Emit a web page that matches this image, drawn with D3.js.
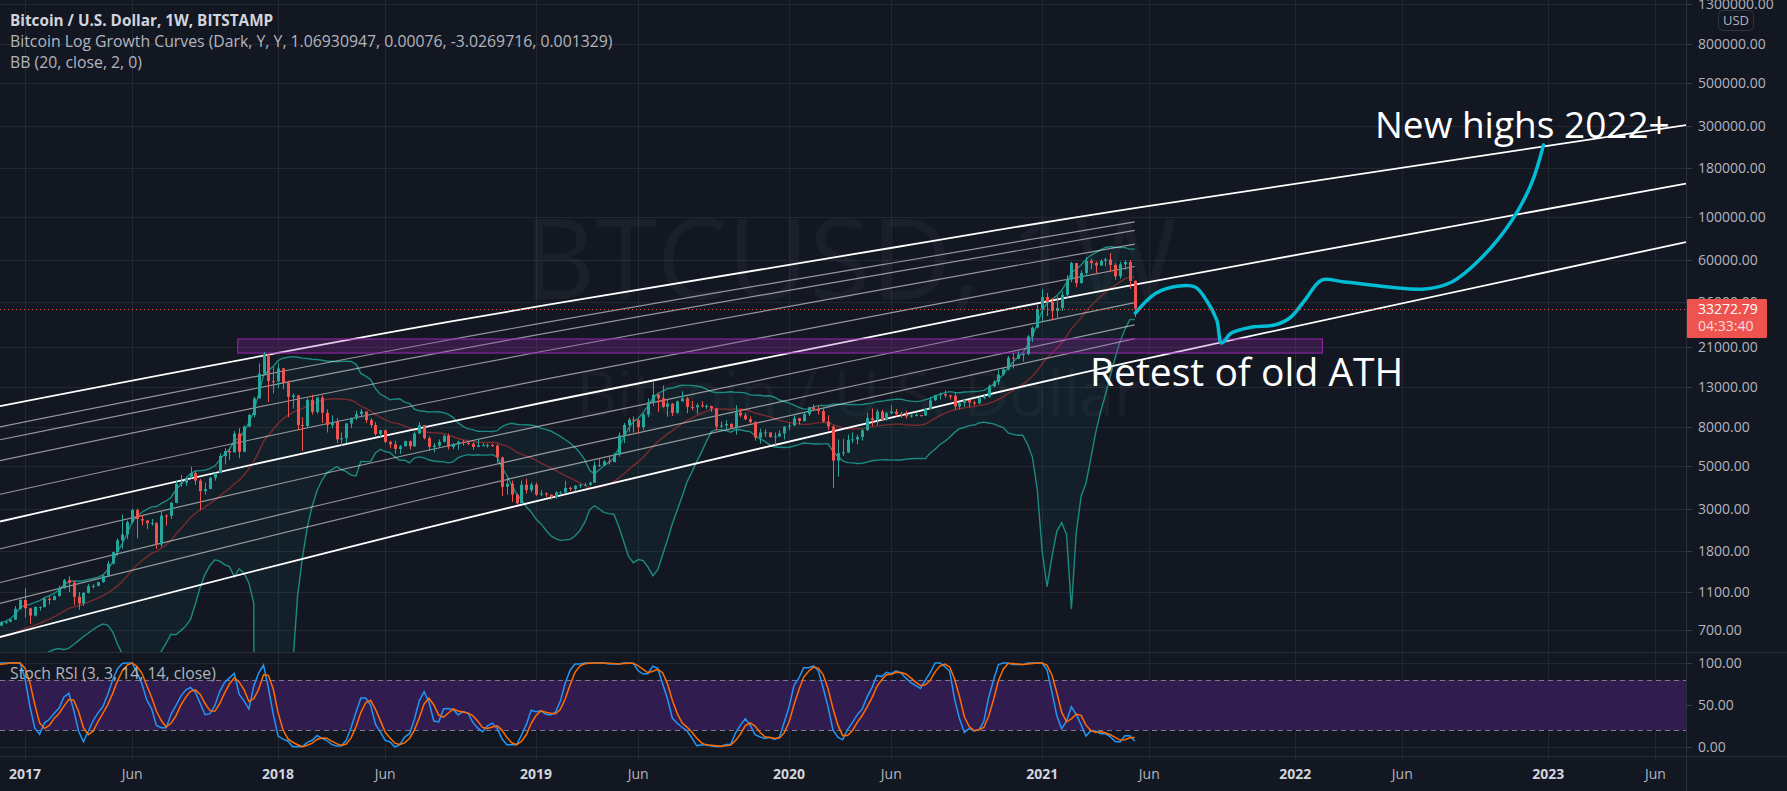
<!DOCTYPE html>
<html><head><meta charset="utf-8">
<script src="https://cdn.jsdelivr.net/npm/d3@7"></script>
<style>body{margin:0;background:#131722;overflow:hidden} svg{display:block}</style>
</head><body><svg id="c" width="1787" height="791"></svg>
<script>
// ---------- DATA ----------
const firstWeek = "2016-01-04";
const firstOpen = 432;
const highs = [460,450,410,420,380,410,445,440,440,420,420,420,425,425,432,455,470,465,465,455,535,590,700,780,770,700,690,680,680,660,625,600,590,585,610,615,612,610,615,620,645,660,720,745,740,755,750,775,780,795,930,1010,
1150,910,925,925,1030,1050,1060,1190,1290,1330,1260,1100,1100,1210,1210,1245,1350,1600,1790,2100,2790,2600,3000,3000,2780,2620,2650,2550,2900,2800,3250,4200,4500,4400,4980,4700,4300,4100,4400,4620,5850,6200,6200,7650,7900,8150,9400,11500,17200,19700,19100,16500,
17200,16300,14000,12000,11800,9000,11300,11800,11500,11700,9900,9200,8900,7500,8400,9000,9750,9950,9650,8900,8500,7750,7750,6800,6800,6450,6800,6800,7600,8500,8200,7150,6600,6900,7300,7400,6600,6800,6850,6700,6650,6950,6600,6550,6550,6500,5600,4400,4200,3600,4200,4300,4100,
4100,3750,3650,3550,3700,3700,4200,3900,3980,4050,4100,4150,5300,5450,5400,5600,5900,7500,8400,8950,9100,8800,9400,11300,13900,12000,13200,11100,10700,11000,12300,11500,10950,10650,10900,10500,10350,10100,8550,8700,8400,10400,9900,9500,9100,8600,7850,7800,7500,7500,7700,8100,
8450,9200,8950,9600,10200,10500,10300,9950,9200,8150,6900,6950,7300,7500,7300,7800,9500,10000,9900,9850,9600,10400,9950,9600,9750,9300,9450,9250,10000,11450,11800,12100,12450,11800,12100,10800,11150,11000,10950,11500,11750,13350,14050,15950,16500,18800,19450,19900,19400,24200,26800,34800,
41950,40100,37800,38500,40950,49700,58300,57500,52600,61800,60500,58700,60200,61300,64900,57500,58400,59500,59600,46600];
const lows = [425,365,370,370,365,370,400,410,400,405,405,405,410,415,420,425,440,440,445,435,440,525,570,660,550,620,620,645,645,620,480,560,565,565,570,600,600,592,600,605,615,630,650,690,690,700,725,730,750,765,790,890,
810,750,820,880,915,950,995,1040,1150,1100,940,890,930,1080,1150,1180,1230,1330,1530,1700,1850,2080,2500,2100,2450,2350,2450,1850,1900,2450,2650,3200,3900,3950,4300,4000,2950,3550,3850,4200,4600,5100,5400,6100,5500,5900,8000,9000,11300,15000,10800,12000,
12800,12600,9000,10000,7700,6000,8000,9300,9400,8400,7500,7900,6600,6400,6600,7900,8700,9000,8400,7950,7200,7100,6600,6200,5800,5800,6350,6100,6300,7400,6900,6000,5900,6250,6650,6100,6150,6100,6400,6450,6100,6300,6380,6250,6300,5200,3500,3550,3250,3150,3200,3600,3650,
3500,3500,3450,3350,3380,3550,3600,3700,3700,3850,3950,3950,4100,4950,5000,5100,5250,5600,6600,7500,7500,7400,7700,9000,10300,9600,10100,9050,9150,9400,10900,9450,9800,9350,10100,9950,9600,7700,7900,7800,7850,7300,9000,8700,8350,6800,6550,7100,7050,6450,7100,6900,
7700,8100,8250,8550,9150,9700,9300,8450,7700,3850,4400,5650,5850,6600,6500,6800,7650,8100,8200,8650,8650,9350,9100,8950,8850,8950,9100,9050,9150,9900,10950,11150,11400,11150,9900,9900,10200,10150,10350,10550,11200,11400,12900,13300,14850,15800,16200,18100,17600,19000,22300,26200,
28100,30400,28850,29300,32300,37900,45700,43000,44900,49300,53500,50400,55800,55400,51500,47000,47500,53000,42200,30000];
const closes = [448,387,402,378,372,407,438,432,412,413,409,416,420,420,431,450,455,460,455,442,530,585,690,760,660,680,650,660,655,625,590,570,580,575,605,608,608,603,612,618,640,656,700,705,700,730,735,765,770,790,900,1000,
905,830,920,920,1015,1000,1050,1150,1270,1230,1040,960,1090,1180,1185,1240,1340,1550,1780,2050,2200,2550,2950,2650,2600,2520,2520,1950,2760,2750,3220,4050,4100,4350,4600,4200,3700,3800,4350,4600,5650,6000,5900,7400,5950,8050,9250,11300,15200,19200,13900,13850,
16200,13600,11500,11700,8200,8100,11100,9600,11400,9500,8200,8500,6900,7000,8350,8900,9350,9650,8700,8200,7350,7700,6700,6500,6150,6350,6750,6350,7400,8200,7000,6300,6400,6700,7200,6300,6500,6700,6600,6550,6300,6420,6420,6450,6400,5550,3900,4050,3550,3200,4000,3750,4000,
3550,3600,3550,3450,3650,3650,3850,3800,3950,4000,4000,4100,5050,5050,5300,5250,5750,7250,8200,8750,8700,8000,9300,10800,11800,11300,10200,10600,9500,10900,11300,10200,10150,10400,10300,10300,10000,8050,8150,8300,7950,9550,9200,8800,8500,7050,7500,7500,7100,7150,7400,8050,
8150,8900,8600,9350,10150,9900,9700,8550,8050,5350,5850,5900,6850,6900,7100,7700,8900,8700,9650,8700,9450,9650,9350,9300,9100,9200,9250,9200,9950,11050,11750,11900,11700,11650,10250,10700,11100,10750,10650,11350,11500,13050,13800,15050,16000,18400,18200,19150,19250,23800,26450,33000,
38200,36000,32300,33500,39200,47200,57500,45200,51000,59000,57500,55800,59000,60000,56200,49000,56600,58200,46400,33272.79];

// growth-curve anchors (top = 0, bottom = 1)
const curveDates = ["2016-11-27","2018-09-05","2020-06-13","2021-05-17","2023-07-19"];
const curveTop = [10300, 28400, 70150, 111400, 302200];
const curveBottom = [641, 2555, 9180, 17700, 74000];
const thickLevels = [0, 0.5, 1];
const thinLevels = [0.09, 0.146, 0.236, 0.382, 0.618, 0.764, 0.854];

// projection path drawn on the chart
const pathDates = ["2021-05-18","2021-06-17","2021-07-20","2021-08-12","2021-08-28","2021-09-12","2021-09-19","2021-10-03","2021-11-02","2021-12-04","2021-12-26","2022-01-17","2022-02-10","2022-03-15","2022-07-08","2022-08-16","2022-09-29","2022-11-11","2022-12-09","2022-12-26"];
const pathPrices = [31530,40100,43610,43090,36870,28980,21980,24800,26650,27290,29690,36870,46880,45770,42070,45770,61810,96450,150500,237700];

// old ATH zone
const zoneDates = ["2017-11-04","2022-02-11"];
const zonePrices = [19480, 23070];

const priceTicks = [1300000,800000,500000,300000,180000,100000,60000,36000,21000,13000,8000,5000,3000,1800,1100,700];
const stochTicks = [100,50,0];
const timeTickDates = ["2017-01-02","2017-06-05","2018-01-01","2018-06-04","2019-01-07","2019-06-03","2020-01-06","2020-06-01","2021-01-04","2021-06-07","2022-01-03","2022-06-06","2023-01-02","2023-06-05"];
const timeTickLabels = ["2017","Jun","2018","Jun","2019","Jun","2020","Jun","2021","Jun","2022","Jun","2023","Jun"];

// ---------- LAYOUT ----------
const W=1787,H=791,PR=1686,MB=652,SB=756;
const FONT="'Open Sans', 'Noto Sans', sans-serif";
const svg=d3.select('#c');
svg.append('rect').attr('width',W).attr('height',H).attr('fill','#131722');

const x=d3.scaleUtc().domain([new Date("2016-11-27"),new Date("2023-07-19")]).range([0,PR]);
const y=d3.scaleLog().domain([535.3,1359000]).range([MB,0]);
const ys=d3.scaleLinear().domain([0,100]).range([747,663]);

const defs=svg.append('defs');
defs.append('clipPath').attr('id','cm').append('rect').attr('x',0).attr('y',0).attr('width',PR).attr('height',MB);
defs.append('clipPath').attr('id','cs').append('rect').attr('x',0).attr('y',MB+1).attr('width',PR).attr('height',SB-MB-1);

const dates=closes.map((_,i)=>d3.utcDay.offset(new Date(firstWeek),7*i));
const opens=closes.map((c,i)=>i===0?firstOpen:closes[i-1]);

// ---------- GRID ----------
const grid=svg.append('g');
const tDates=timeTickDates.map(d=>new Date(d));
grid.selectAll('.vg').data(tDates).join('line')
  .attr('x1',d=>Math.round(x(d))+0.5).attr('x2',d=>Math.round(x(d))+0.5).attr('y1',0).attr('y2',SB+5)
  .attr('stroke','#232732').attr('stroke-width',1);
grid.selectAll('.hg').data(priceTicks).join('line')
  .attr('x1',0).attr('x2',PR+5).attr('y1',d=>Math.round(y(d))+0.5).attr('y2',d=>Math.round(y(d))+0.5)
  .attr('stroke','#232732');
grid.selectAll('.sg').data(stochTicks).join('line')
  .attr('x1',0).attr('x2',PR+5).attr('y1',d=>Math.round(ys(d))+0.5).attr('y2',d=>Math.round(ys(d))+0.5)
  .attr('stroke','#232732');

// ---------- WATERMARK ----------
svg.append('text').attr('x',850).attr('y',299).attr('text-anchor','middle')
  .attr('font-family',FONT).attr('font-size',112).attr('fill','rgba(255,255,255,0.035)').text('BTCUSD, 1W');
svg.append('text').attr('x',858).attr('y',416).attr('text-anchor','middle')
  .attr('font-family',FONT).attr('font-size',63).attr('fill','rgba(255,255,255,0.035)').text('Bitcoin / U.S. Dollar');

const main=svg.append('g').attr('clip-path','url(#cm)');

// ---------- BOLLINGER BANDS ----------
const bb=[];
for(let i=19;i<closes.length;i++){
  const w=closes.slice(i-19,i+1), m=d3.mean(w);
  const sd=Math.sqrt(d3.mean(w,v=>(v-m)*(v-m)));
  bb.push({d:dates[i],m,u:m+2*sd,l:m-2*sd});
}
const yc=v=>v>1?y(v):MB+2000;
main.append('path').datum(bb).attr('fill','rgba(33,150,140,0.07)')
  .attr('d',d3.area().x(d=>x(d.d)).y0(d=>yc(d.l)).y1(d=>yc(d.u)));
main.append('path').datum(bb).attr('fill','none').attr('stroke','#1b8a80').attr('stroke-width',1.4)
  .attr('d',d3.line().x(d=>x(d.d)).y(d=>yc(d.u)));
main.append('path').datum(bb).attr('fill','none').attr('stroke','#1b8a80').attr('stroke-width',1.4)
  .attr('d',d3.line().x(d=>x(d.d)).y(d=>yc(d.l)));
main.append('path').datum(bb).attr('fill','none').attr('stroke','#7a2a2e').attr('stroke-width',1.4)
  .attr('d',d3.line().x(d=>x(d.d)).y(d=>yc(d.m)));

// ---------- GROWTH CURVES ----------
const cD=curveDates.map(d=>new Date(d));
function levelPts(f,n){
  return cD.slice(0,n).map((d,i)=>{
    const lt=Math.log10(curveTop[i]), lb=Math.log10(curveBottom[i]);
    return [x(d), y(Math.pow(10, lt+f*(lb-lt)))];
  });
}
const cl=d3.line().curve(d3.curveNatural);
thinLevels.forEach(f=>{
  main.append('path').attr('d',cl(levelPts(f,4))).attr('fill','none')
    .attr('stroke','rgba(255,255,255,0.55)').attr('stroke-width',1.2);
});
thickLevels.forEach(f=>{
  main.append('path').attr('d',cl(levelPts(f,5))).attr('fill','none')
    .attr('stroke','#ffffff').attr('stroke-width',1.8);
});

// ---------- ZONE ----------
main.append('rect').attr('x',x(new Date(zoneDates[0]))).attr('width',x(new Date(zoneDates[1]))-x(new Date(zoneDates[0])))
  .attr('y',y(zonePrices[1])).attr('height',y(zonePrices[0])-y(zonePrices[1]))
  .attr('fill','rgba(156,39,176,0.25)').attr('stroke','#9c27b0').attr('stroke-width',1);

// ---------- CANDLES ----------
const cg=main.append('g');
closes.forEach((c,i)=>{
  const o=opens[i], up=c>=o, col=up?'#26a69a':'#ef5350', cx=Math.round(x(dates[i]));
  cg.append('line').attr('x1',cx+0.5).attr('x2',cx+0.5).attr('y1',y(highs[i])).attr('y2',y(lows[i])).attr('stroke',col).attr('stroke-width',1);
  const t=y(Math.max(o,c)), b=y(Math.min(o,c));
  cg.append('rect').attr('x',cx-1).attr('width',3).attr('y',t).attr('height',Math.max(1,b-t)).attr('fill',col);
});

// last price dotted line
const lastC=closes[closes.length-1];
svg.append('line').attr('x1',0).attr('x2',PR).attr('y1',Math.round(y(lastC))+0.5).attr('y2',Math.round(y(lastC))+0.5)
  .attr('stroke','#ef5350').attr('stroke-dasharray','1,3').attr('stroke-width',1);

// ---------- PROJECTION ----------
main.append('path').datum(pathDates.map((d,i)=>[x(new Date(d)),y(pathPrices[i])]))
  .attr('d',d3.line().curve(d3.curveCatmullRom)).attr('fill','none')
  .attr('stroke','#00bcd4').attr('stroke-width',3.5).attr('stroke-linecap','round');

// annotations
svg.append('text').attr('x',1090).attr('y',386).attr('font-family',FONT).attr('font-size',39).attr('fill','#ffffff').text('Retest of old ATH');
svg.append('text').attr('x',1375).attr('y',138).attr('font-family',FONT).attr('font-size',37).attr('fill','#ffffff').text('New highs 2022+');

// ---------- STOCH RSI ----------
function rma(src,n){const out=[];let a=null;src.forEach((v,i)=>{if(i<n-1){out.push(null);return;}
  if(a===null){a=d3.mean(src.slice(i-n+1,i+1));}else a=(a*(n-1)+v)/n; out.push(a);});return out;}
const ups=closes.map((c,i)=>i?Math.max(c-closes[i-1],0):0), dns=closes.map((c,i)=>i?Math.max(closes[i-1]-c,0):0);
const ru=rma(ups.slice(1),14), rd=rma(dns.slice(1),14);
const rsi=[null].concat(ru.map((u,i)=>u===null?null:(rd[i]===0?100:100-100/(1+u/rd[i]))));
const st=rsi.map((r,i)=>{if(i<14||rsi[i-13]===null)return null;const w=rsi.slice(i-13,i+1);const lo=d3.min(w),hi=d3.max(w);return hi===lo?0:(r-lo)/(hi-lo)*100;});
const sma=(a,n)=>a.map((v,i)=>{if(i<n-1)return null;const w=a.slice(i-n+1,i+1);return w.some(q=>q===null)?null:d3.mean(w);});
const K=sma(st,3), D=sma(K,3);

const sg=svg.append('g').attr('clip-path','url(#cs)');
sg.append('rect').attr('x',0).attr('width',PR).attr('y',ys(80)).attr('height',ys(20)-ys(80)).attr('fill','#311c50');
[80,20].forEach(v=>sg.append('line').attr('x1',0).attr('x2',PR).attr('y1',Math.round(ys(v))+0.5).attr('y2',Math.round(ys(v))+0.5)
  .attr('stroke','#787b86').attr('stroke-dasharray','5,4'));
const sl=d3.line().defined(d=>d[1]!==null).x(d=>x(d[0])).y(d=>ys(d[1]));
sg.append('path').datum(dates.map((d,i)=>[d,K[i]])).attr('d',sl).attr('fill','none').attr('stroke','#2196f3').attr('stroke-width',1.5);
sg.append('path').datum(dates.map((d,i)=>[d,D[i]])).attr('d',sl).attr('fill','none').attr('stroke','#ff6d00').attr('stroke-width',1.5);

// ---------- SEPARATORS ----------
svg.append('line').attr('x1',0).attr('x2',W).attr('y1',MB+0.5).attr('y2',MB+0.5).attr('stroke','#2a2e39').attr('stroke-width',1);
svg.append('line').attr('x1',0).attr('x2',W).attr('y1',SB+0.5).attr('y2',SB+0.5).attr('stroke','#2a2e39').attr('stroke-width',1);
svg.append('line').attr('x1',PR+0.5).attr('x2',PR+0.5).attr('y1',0).attr('y2',H).attr('stroke','#2a2e39').attr('stroke-width',1);

// ---------- AXES ----------
const fmt=d3.format('.2f');
const ax=svg.append('g').attr('font-family',FONT).attr('font-size',14).attr('fill','#b2b5be');
priceTicks.forEach(p=>{
  const yy=Math.round(y(p))+0.5;
  ax.append('line').attr('x1',PR).attr('x2',PR+6).attr('y1',yy).attr('y2',yy).attr('stroke','#363a45');
  ax.append('text').attr('x',1698).attr('y',yy).attr('dy','0.35em').text(fmt(p));
});
stochTicks.forEach(p=>{
  const yy=Math.round(ys(p))+0.5;
  ax.append('line').attr('x1',PR).attr('x2',PR+6).attr('y1',yy).attr('y2',yy).attr('stroke','#363a45');
  ax.append('text').attr('x',1698).attr('y',yy).attr('dy','0.35em').text(fmt(p));
});
tDates.forEach((d,i)=>{
  const isY=timeTickLabels[i]!=='Jun';
  ax.append('text').attr('x',x(d)).attr('y',779).attr('text-anchor','middle')
    .attr('font-weight',isY?'bold':'normal').attr('fill',isY?'#d1d4dc':'#b2b5be').text(timeTickLabels[i]);
});

// USD badge
svg.append('rect').attr('x',1718.5).attr('y',10.5).attr('width',35).attr('height',20).attr('rx',4)
  .attr('fill','#131722').attr('stroke','#2f333e');
svg.append('text').attr('x',1736).attr('y',25).attr('text-anchor','middle').attr('font-family',FONT).attr('font-size',13).attr('fill','#b2b5be').text('USD');

// price label
const ly=Math.round(y(lastC));
svg.append('rect').attr('x',PR+1).attr('y',ly-10).attr('width',80).attr('height',39).attr('fill','#ef5350').attr('rx',1);
svg.append('text').attr('x',1698).attr('y',ly+5).attr('font-family',FONT).attr('font-size',14).attr('fill','#ffffff').text(fmt(lastC));
svg.append('text').attr('x',1698).attr('y',ly+22).attr('font-family',FONT).attr('font-size',14).attr('fill','rgba(255,255,255,0.8)').text('04:33:40');

// ---------- LEGEND ----------
const lg=svg.append('g').attr('font-family',FONT).attr('font-size',15.8);
lg.append('text').attr('x',10).attr('y',26).attr('font-size',15.3).attr('font-weight','bold').attr('fill','#d1d4dc').text('Bitcoin / U.S. Dollar, 1W, BITSTAMP');
lg.append('text').attr('x',10).attr('y',47).attr('fill','#b2b5be').text('Bitcoin Log Growth Curves (Dark, Y, Y, 1.06930947, 0.00076, -3.0269716, 0.001329)');
lg.append('text').attr('x',10).attr('y',68).attr('fill','#b2b5be').text('BB (20, close, 2, 0)');
lg.append('text').attr('x',10).attr('y',679).attr('fill','#b2b5be').text('Stoch RSI (3, 3, 14, 14, close)');
</script></body></html>
